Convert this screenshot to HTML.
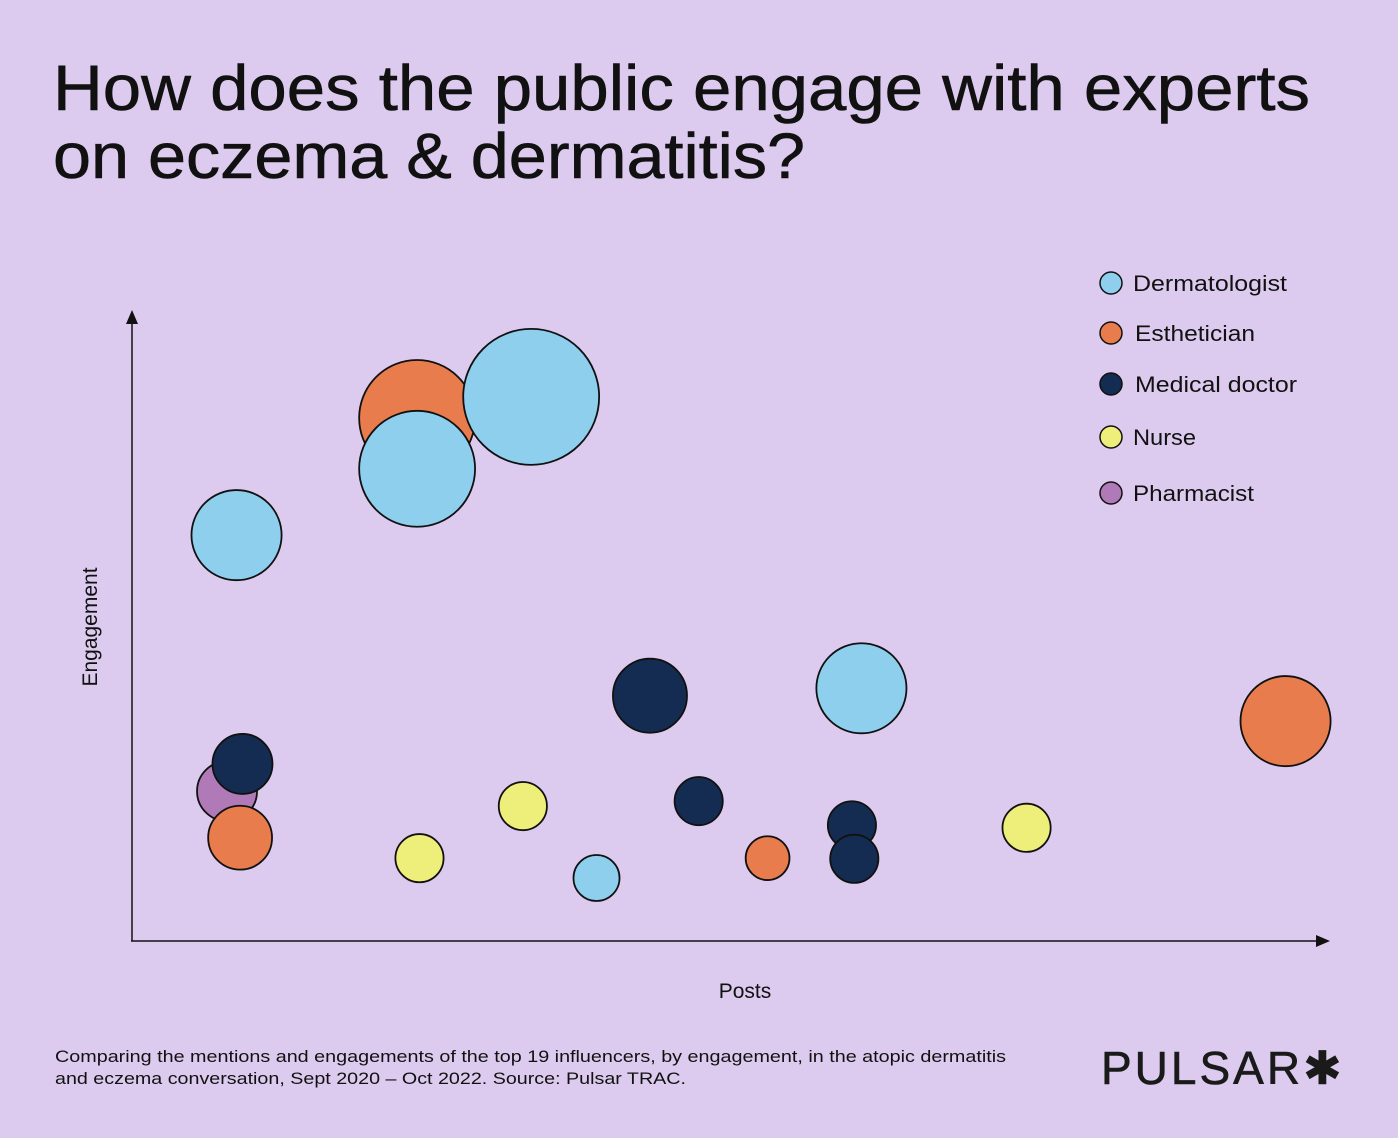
<!DOCTYPE html>
<html><head><meta charset="utf-8"><style>
html,body{margin:0;padding:0;background:#dccbee;}
svg{display:block;font-family:"Liberation Sans",sans-serif;}
</style></head><body>
<svg id="chart" width="1398" height="1138" viewBox="0 0 1398 1138">
<rect width="1398" height="1138" fill="#dccbee"/>
<text x="53" y="110" font-size="64" fill="#111" stroke="#111" stroke-width="0.6" textLength="1257" lengthAdjust="spacingAndGlyphs">How does the public engage with experts</text>
<text x="53" y="178" font-size="64" fill="#111" stroke="#111" stroke-width="0.6" textLength="752" lengthAdjust="spacingAndGlyphs">on eczema &amp; dermatitis?</text>
<g>
<line x1="132" y1="941" x2="132" y2="322" stroke="#111" stroke-width="1.5"/>
<polygon points="132,310 126,324 138,324" fill="#111"/>
</g>
<g>
<line x1="131" y1="941" x2="1318" y2="941" stroke="#111" stroke-width="1.5"/>
<polygon points="1330,941 1316,935 1316,947" fill="#111"/>
</g>
<text x="97" y="627" font-size="21" fill="#111" text-anchor="middle" transform="rotate(-90 97 627)">Engagement</text>
<text x="745" y="998" font-size="21" fill="#111" text-anchor="middle">Posts</text>
<g id="bubbles"></g>
<g id="legend"></g>
<text x="55" y="1062" font-size="17" fill="#111" textLength="951" lengthAdjust="spacingAndGlyphs">Comparing the mentions and engagements of the top 19 influencers, by engagement, in the atopic dermatitis</text>
<text x="55" y="1084" font-size="17" fill="#111" textLength="631" lengthAdjust="spacingAndGlyphs">and eczema conversation, Sept 2020 – Oct 2022. Source: Pulsar TRAC.</text>
<text x="1101" y="1084" font-size="46" fill="#1a1a1a" stroke="#1a1a1a" stroke-width="0.6" letter-spacing="3">PULSAR✱</text>
</svg>
<script>
const categories = ["Dermatologist","Esthetician","Medical doctor","Nurse","Pharmacist"];
const colors = ["#8ecfee","#e97c4c","#142c52","#eeee7a","#b07ab8"];
const bubbleCategory = [1,0,0,0,2,0,1,4,2,1,3,3,0,2,1,2,2,3];
const postsValues =    [24.0,24.0,33.6,8.8,43.6,61.4,97.1,8.0,9.3,9.1,24.2,32.9,39.1,47.7,53.5,60.6,60.8,75.3];
const engagementValues=[84.2,76.0,87.6,65.3,39.4,40.6,35.3,24.0,28.4,16.5,13.2,21.6,10.0,22.4,13.2,18.5,13.1,18.1];
const sizeValues =     [33.6,33.6,46.2,20.3,13.7,20.3,20.3,9.0,9.0,10.2,5.8,5.8,5.3,5.8,4.8,5.8,5.8,5.8];
const NS="http://www.w3.org/2000/svg";
const xS=v=>132+v*11.88, yS=v=>940-v*6.2, rS=v=>Math.sqrt(v)*10;
const bg=document.getElementById('bubbles');
for(let i=0;i<postsValues.length;i++){
  const c=document.createElementNS(NS,'circle');
  c.setAttribute('cx',xS(postsValues[i]));
  c.setAttribute('cy',yS(engagementValues[i]));
  c.setAttribute('r',rS(sizeValues[i]));
  c.setAttribute('fill',colors[bubbleCategory[i]]);
  c.setAttribute('stroke','#111');
  c.setAttribute('stroke-width','1.8');
  
  
  bg.appendChild(c);
}
const legendY=[283,333,384,437,493];
const legendTextX=[1133,1135,1135,1133,1133];
const legendTextW=[154,120,162,63,121];
const lg=document.getElementById('legend');
categories.forEach((cat,i)=>{
  const g=document.createElementNS(NS,'g');
  
  
  const c=document.createElementNS(NS,'circle');
  c.setAttribute('cx',1111);c.setAttribute('cy',legendY[i]);c.setAttribute('r',11);
  c.setAttribute('fill',colors[i]);c.setAttribute('stroke','#111');c.setAttribute('stroke-width','1.5');
  const t=document.createElementNS(NS,'text');
  t.setAttribute('x',legendTextX[i]);t.setAttribute('y',legendY[i]+8);t.setAttribute('font-size','22');t.setAttribute('fill','#111');
  t.setAttribute('textLength',legendTextW[i]);t.setAttribute('lengthAdjust','spacingAndGlyphs');
  t.textContent=cat;
  g.appendChild(c);g.appendChild(t);lg.appendChild(g);
});
</script>
</body></html>
